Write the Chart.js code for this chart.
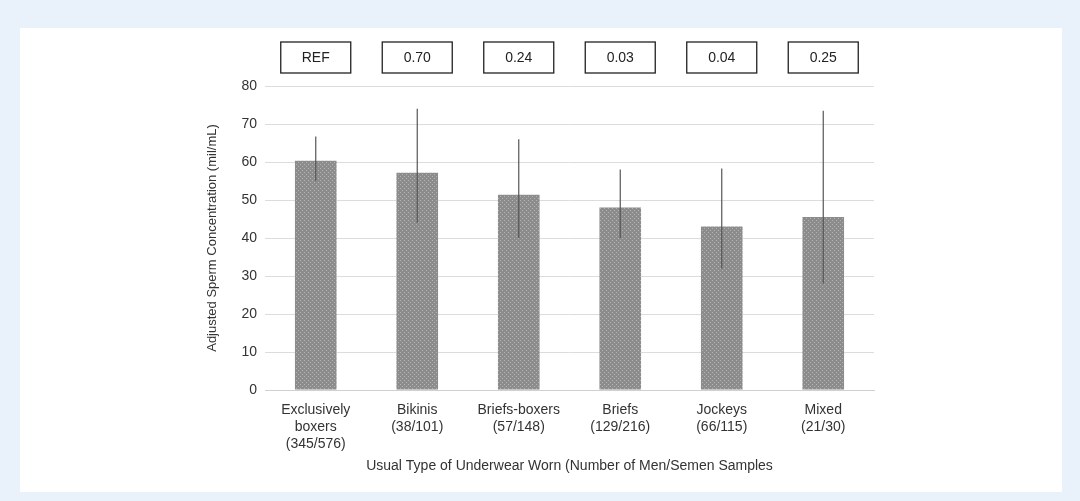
<!DOCTYPE html>
<html>
<head>
<meta charset="utf-8">
<script src="https://cdn.jsdelivr.net/npm/chart.js@4"></script>
<style>
  html, body { margin: 0; padding: 0; background: #e9f1fa; }
  #card { position: absolute; left: 20px; top: 28px; width: 1042px; height: 464px; background: #fff; }
  #wrap { position: absolute; left: 0; top: 0; width: 1080px; height: 501px; }
</style>
</head>
<body>
<div id="card"></div>
<div id="wrap"><canvas id="chart" width="1080" height="501"></canvas></div>
<script>
// data
const categories = [
  ['Exclusively', 'boxers', '(345/576)'],
  ['Bikinis', '(38/101)'],
  ['Briefs-boxers', '(57/148)'],
  ['Briefs', '(129/216)'],
  ['Jockeys', '(66/115)'],
  ['Mixed', '(21/30)']
];
const concentration = [60.3, 57.2, 51.4, 48.0, 43.0, 45.5];
const ciLow = [55.0, 44.0, 40.0, 40.0, 32.0, 28.0];
const ciHigh = [66.7, 74.0, 66.0, 58.0, 58.3, 73.5];
const pValues = ['REF', '0.70', '0.24', '0.03', '0.04', '0.25'];

// dotted fill like the printed figure
function dotPattern() {
  const c = document.createElement('canvas');
  c.width = 4; c.height = 4;
  const g = c.getContext('2d');
  g.fillStyle = '#8c8c8c';
  g.fillRect(0, 0, 4, 4);
  g.fillStyle = '#b4b4b4';
  g.fillRect(0, 0, 1, 1);
  g.fillRect(2, 2, 1, 1);
  return g.createPattern(c, 'repeat');
}

const extras = {
  id: 'extras',
  afterDatasetsDraw(chart) {
    const ctx = chart.ctx;
    const x = chart.scales.x, y = chart.scales.y;
    ctx.save();
    ctx.strokeStyle = '#555';
    ctx.lineWidth = 1.2;
    concentration.forEach((v, i) => {
      const cx = x.getPixelForValue(i);
      ctx.beginPath();
      ctx.moveTo(cx, y.getPixelForValue(ciLow[i]));
      ctx.lineTo(cx, y.getPixelForValue(ciHigh[i]));
      ctx.stroke();
    });
    ctx.strokeStyle = '#222';
    ctx.lineWidth = 1.3;
    ctx.fillStyle = '#222';
    ctx.font = '14px "Liberation Sans", Arial, sans-serif';
    ctx.textAlign = 'center';
    ctx.textBaseline = 'middle';
    pValues.forEach((p, i) => {
      const cx = x.getPixelForValue(i);
      ctx.strokeRect(cx - 35, 42, 70, 31);
      ctx.fillText(p, cx, 58);
    });
    ctx.restore();
  }
};

new Chart(document.getElementById('chart'), {
  type: 'bar',
  data: {
    labels: categories,
    datasets: [{
      data: concentration,
      backgroundColor: dotPattern(),
      barPercentage: 0.82,
      categoryPercentage: 0.5
    }]
  },
  options: {
    responsive: false,
    animation: false,
    devicePixelRatio: 1,
    layout: { padding: { left: 205, top: 86, right: 206, bottom: 22 } },
    plugins: { legend: { display: false }, tooltip: { enabled: false } },
    scales: {
      x: {
        grid: { display: false },
        border: { color: '#d0d0d0' },
        ticks: { color: '#333', font: { size: 14, family: '"Liberation Sans", Arial' }, maxRotation: 0, padding: 4 },
        title: { display: true, text: 'Usual Type of Underwear Worn (Number of Men/Semen Samples', color: '#333', font: { size: 14, family: '"Liberation Sans", Arial' }, padding: { top: 2 } },
        afterFit(s) { s.height = 89; }
      },
      y: {
        min: 0, max: 80,
        ticks: { stepSize: 10, color: '#333', font: { size: 14, family: '"Liberation Sans", Arial' }, padding: 8 },
        grid: { color: '#dcdcdc', drawTicks: false },
        border: { display: false },
        title: { display: true, text: 'Adjusted Sperm Concentration (mil/mL)', color: '#333', font: { size: 13, family: '"Liberation Sans", Arial' }, padding: 0 },
        afterFit(s) { s.width = 60; }
      }
    }
  },
  plugins: [extras]
});
</script>
</body>
</html>
